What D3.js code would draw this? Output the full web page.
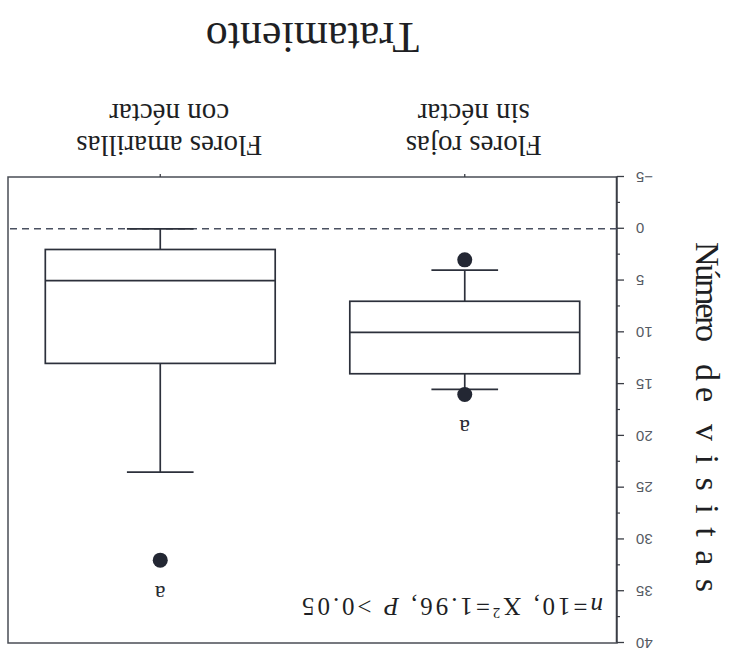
<!DOCTYPE html>
<html>
<head>
<meta charset="utf-8">
<script src="https://cdn.jsdelivr.net/npm/d3@7"></script>
<style>
  html, body { margin: 0; padding: 0; background: #ffffff; }
  svg { display: block; }
</style>
</head>
<body>
<script>
// Box plot of visits per flower treatment (the printed figure is shown upside down).
const categoryNames = ["Flores rojas", "Flores amarillas"];
const categorySubs  = ["sin néctar", "con néctar"];
const lowerWhisker  = [4, 0];
const q1Values      = [7, 2];
const medianValues  = [10, 5];
const q3Values      = [14, 13];
const upperWhisker  = [15.5, 23.5];
const outlierValues = [[3, 16], [32]];
const groupLetters  = ["a", "a"];
const yTickValues   = [-5, 0, 5, 10, 15, 20, 25, 30, 35, 40];
const yMinorValues  = [-2.5, 2.5, 7.5, 12.5, 17.5, 22.5, 27.5, 32.5, 37.5];
const referenceValue = 0;
const statsParts = ["n", "=10,  X", "2", "=1.96,  ", "P", " >0.05"];
const yTitleWords = ["Número", "de", "visitas"];

const W = 739, H = 660;
const plot = { left: 122, right: 731, top: 17, bottom: 483 };
const ink = "#2c303b";
const serif = "'Liberation Serif', 'Times New Roman', serif";

const svg = d3.select("body").append("svg")
  .attr("width", W).attr("height", H);

svg.append("rect").attr("width", W).attr("height", H).attr("fill", "#ffffff");

// whole figure turned half a revolution
const g = svg.append("g").attr("transform", `rotate(180 ${W / 2} ${H / 2})`);

const y = d3.scaleLinear().domain([-5, 40]).range([plot.bottom, plot.top]);
const x = d3.scaleBand().domain(d3.range(categoryNames.length))
  .range([plot.left, plot.right]).paddingInner(0.245).paddingOuter(0.1225);
const cx = i => x(i) + x.bandwidth() / 2;
const boxW = x.bandwidth();
const capW = x.bandwidth() * 0.29;

// frame
g.append("rect")
  .attr("x", plot.left).attr("y", plot.top)
  .attr("width", plot.right - plot.left).attr("height", plot.bottom - plot.top)
  .attr("fill", "none").attr("stroke", "#4a4d55").attr("stroke-width", 1.5);

// y axis
const yAxis = g.append("g").attr("transform", `translate(${plot.left},0)`)
  .call(d3.axisLeft(y).tickValues(yTickValues).tickSize(7).tickSizeOuter(0).tickPadding(12));
yAxis.select(".domain").attr("stroke", "#3a3d45").attr("stroke-width", 1.5);
yAxis.selectAll(".tick line").attr("stroke", "#3a3d45").attr("stroke-width", 1.3);
yAxis.selectAll(".tick text")
  .attr("font-family", "'Liberation Sans', Arial, sans-serif")
  .attr("font-size", 15).attr("fill", "#555a63");

const yMinor = g.append("g").attr("transform", `translate(${plot.left},0)`)
  .call(d3.axisLeft(y).tickValues(yMinorValues).tickSize(3).tickFormat(""));
yMinor.select(".domain").remove();
yMinor.selectAll(".tick line").attr("stroke", "#3a3d45").attr("stroke-width", 1.2);

// x axis ticks (labels added as two lines below)
const xAxis = g.append("g").attr("transform", `translate(0,${plot.bottom})`)
  .call(d3.axisBottom(x).tickSize(3).tickSizeOuter(0).tickFormat(""));
xAxis.select(".domain").remove();
xAxis.selectAll(".tick line").attr("stroke", "#3a3d45").attr("stroke-width", 1.3);

const catLabels = g.append("g")
  .attr("font-family", serif).attr("font-size", 29).attr("fill", "#1e1f24")
  .attr("text-anchor", "middle");
categoryNames.forEach((name, i) => {
  catLabels.append("text").attr("x", cx(i) - 9).attr("y", 524).text(name);
  catLabels.append("text").attr("x", cx(i) - 9).attr("y", 556).text(categorySubs[i]);
});

// reference line
g.append("line")
  .attr("x1", plot.left).attr("x2", plot.right)
  .attr("y1", y(referenceValue)).attr("y2", y(referenceValue))
  .attr("stroke", "#4a5060").attr("stroke-width", 1.6).attr("stroke-dasharray", "7 5");

// boxes
const boxes = g.append("g").attr("stroke", ink).attr("stroke-width", 1.7).attr("fill", "none");
categoryNames.forEach((_, i) => {
  const c = cx(i);
  boxes.append("line").attr("x1", c).attr("x2", c)
    .attr("y1", y(lowerWhisker[i])).attr("y2", y(q1Values[i]));
  boxes.append("line").attr("x1", c).attr("x2", c)
    .attr("y1", y(q3Values[i])).attr("y2", y(upperWhisker[i]));
  [lowerWhisker[i], upperWhisker[i]].forEach(v => {
    boxes.append("line").attr("x1", c - capW / 2).attr("x2", c + capW / 2)
      .attr("y1", y(v)).attr("y2", y(v));
  });
  boxes.append("rect")
    .attr("x", x(i)).attr("width", boxW)
    .attr("y", y(q3Values[i])).attr("height", y(q1Values[i]) - y(q3Values[i]))
    .attr("fill", "#ffffff");
  boxes.append("line").attr("x1", x(i)).attr("x2", x(i) + boxW)
    .attr("y1", y(medianValues[i])).attr("y2", y(medianValues[i]));
});

// outliers
categoryNames.forEach((_, i) => {
  g.selectAll(null).data(outlierValues[i]).enter().append("circle")
    .attr("cx", cx(i)).attr("cy", d => y(d)).attr("r", 7.5)
    .attr("fill", "#232733");
});

// group letters above the highest point of each group
categoryNames.forEach((_, i) => {
  const top = d3.max([upperWhisker[i], ...outlierValues[i]]);
  g.append("text")
    .attr("x", cx(i)).attr("y", y(top + 3) + 24 * 0.22)
    .attr("text-anchor", "middle")
    .attr("font-family", serif).attr("font-size", 24).attr("fill", "#2a2c33")
    .text(groupLetters[i]);
});

// statistics
const stats = g.append("text")
  .attr("x", 136).attr("y", 62)
  .attr("font-family", serif).attr("font-size", 25).attr("fill", "#1e1f24")
  .attr("textLength", 301).attr("lengthAdjust", "spacing");
stats.append("tspan").attr("font-style", "italic").text(statsParts[0]);
stats.append("tspan").text(statsParts[1]);
stats.append("tspan").attr("font-size", 15).attr("dy", -10).text(statsParts[2]);
stats.append("tspan").attr("dy", 10).text(statsParts[3]);
stats.append("tspan").attr("font-style", "italic").text(statsParts[4]);
stats.append("tspan").text(statsParts[5]);

// axis titles
g.append("text")
  .attr("x", (plot.left + plot.right) / 2).attr("y", 637)
  .attr("text-anchor", "middle")
  .attr("font-family", serif).attr("font-size", 44).attr("fill", "#1e1f24")
  .text("Tratamiento");

// vertical title, word by word along the rotated baseline
const yTitle = g.append("g")
  .attr("transform", "translate(43,0) rotate(-90)")
  .attr("font-family", serif).attr("font-size", 34).attr("fill", "#1e1f24");
const wordStart = [-418, -296, -236];
const wordLength = [100, 38, 168];
yTitleWords.forEach((w, i) => {
  yTitle.append("text")
    .attr("x", wordStart[i]).attr("y", 0)
    .attr("textLength", wordLength[i]).attr("lengthAdjust", "spacing")
    .text(w);
});
</script>
</body>
</html>
